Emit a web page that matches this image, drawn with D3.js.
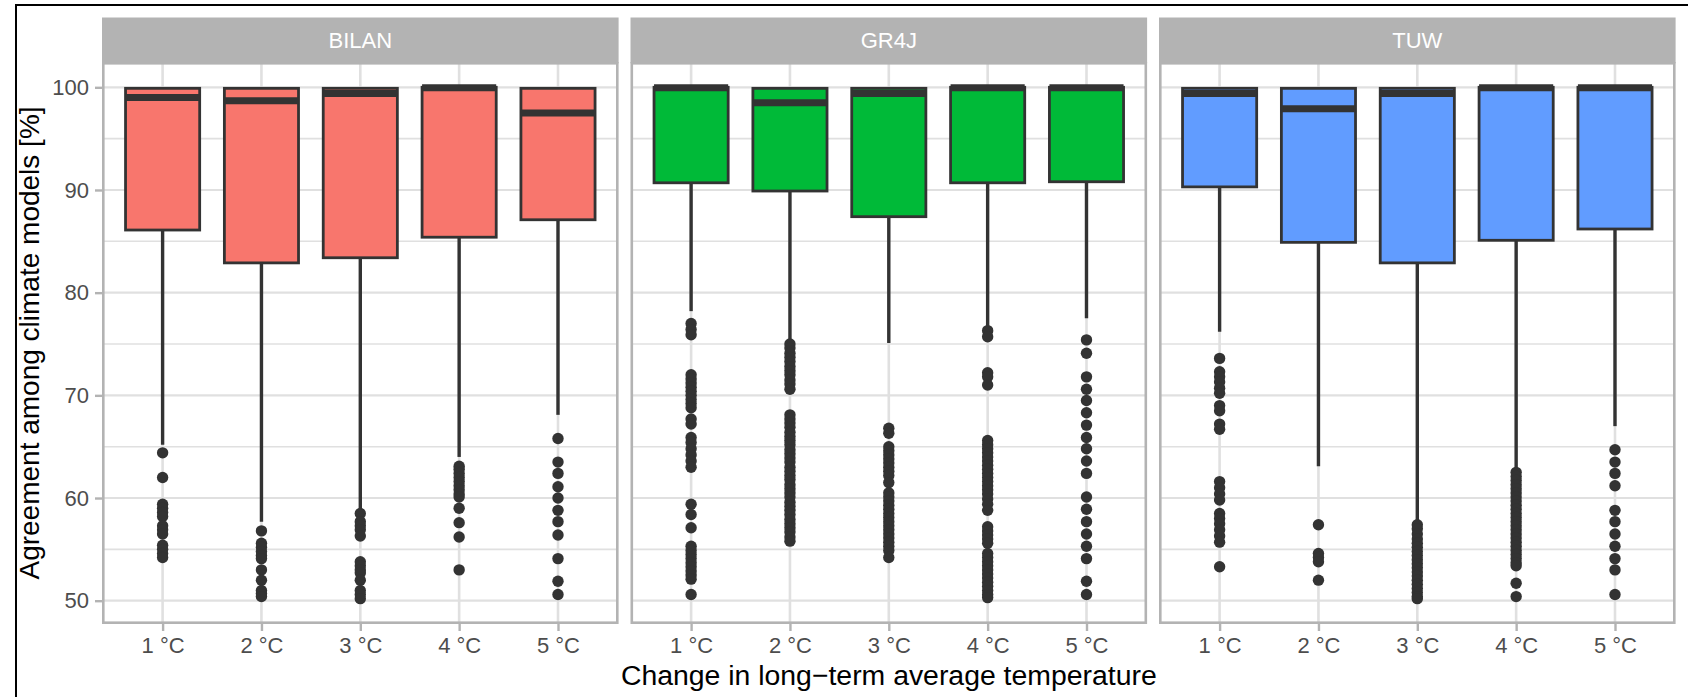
<!DOCTYPE html>
<html>
<head>
<meta charset="utf-8">
<script src="https://cdn.jsdelivr.net/npm/d3@7"></script>
<style>
  body { margin: 0; background: #fff; }
  text { font-family: "Liberation Sans", Arial, Helvetica, sans-serif; }
</style>
</head>
<body>
<svg id="chart" width="1688" height="697"></svg>
<script>
// ---- data ----
const models = ["BILAN", "GR4J", "TUW"]
const categories = ["1 °C", "2 °C", "3 °C", "4 °C", "5 °C"]
const fills = ["#F8766D", "#00BA38", "#619CFF"]
const yTicks = [50, 60, 70, 80, 90, 100]
const yMinorTicks = [55, 65, 75, 85, 95]

const bilanQ1 = [86.1, 82.9, 83.4, 85.4, 87.1]
const bilanMedian = [99.0, 98.7, 99.4, 99.95, 97.5]
const bilanQ3 = [99.9, 99.9, 99.9, 100, 99.9]
const bilanLow = [65.2, 57.7, 58.9, 64.0, 68.1]
const bilanOut = [
  [64.4, 62.0, 59.4, 59.0, 58.6, 58.2, 57.3, 56.9, 56.5, 55.4, 55.0, 54.6, 54.2],
  [56.8, 55.6, 55.2, 54.8, 54.4, 54.1, 53.0, 52.0, 51.0, 50.7, 50.4],
  [58.5, 57.7, 57.3, 56.9, 56.3, 53.8, 53.4, 53.0, 52.7, 52.0, 51.0, 50.6, 50.2],
  [63.1, 62.8, 62.4, 62.0, 61.6, 61.2, 60.8, 60.4, 60.1, 59.0, 57.6, 56.2, 53.0],
  [65.8, 63.5, 62.4, 61.1, 60.0, 58.8, 57.7, 56.4, 54.1, 51.9, 50.6]
]

const gr4jQ1 = [90.7, 89.9, 87.4, 90.7, 90.8]
const gr4jMedian = [99.95, 98.5, 99.4, 99.95, 99.95]
const gr4jQ3 = [100, 99.9, 99.9, 100, 100]
const gr4jLow = [78.2, 75.3, 75.1, 76.6, 77.5]
const gr4jOut = [
  [77.0, 76.4, 75.9, 72.0, 71.6, 71.2, 70.8, 70.4, 70.0, 69.6, 69.2, 68.8, 67.7, 67.2,
   65.9, 65.4, 64.8, 64.2, 63.6, 63.0, 59.4, 58.4, 57.1, 55.3, 54.9, 54.5, 54.1, 53.7,
   53.3, 52.9, 52.5, 52.1, 50.6],
  [75.0, 74.6, 74.1, 73.7, 73.3, 72.8, 72.4, 72.0, 71.5, 71.1, 70.6, 68.1, 67.7, 67.3,
   66.9, 66.4, 66.0, 65.6, 65.2, 64.7, 64.3, 63.9, 63.5, 63.0, 62.6, 62.2, 61.8, 61.3,
   60.9, 60.5, 60.1, 59.6, 59.2, 58.8, 58.4, 57.9, 57.5, 57.1, 56.7, 56.2, 55.8],
  [66.8, 66.3, 65.0, 64.6, 64.2, 63.8, 63.4, 63.0, 62.6, 62.2, 61.5, 60.5, 60.1, 59.7,
   59.3, 58.9, 58.5, 58.1, 57.7, 57.3, 56.9, 56.5, 56.1, 55.7, 55.3, 54.9, 54.2],
  [76.3, 75.7, 72.2, 71.8, 71.0, 65.6, 65.2, 64.8, 64.4, 64.0, 63.6, 63.2, 62.8, 62.4,
   62.0, 61.6, 61.2, 60.8, 60.4, 59.9, 59.4, 58.8, 57.2, 56.8, 56.4, 56.0, 55.6, 54.6,
   54.2, 53.8, 53.4, 53.0, 52.6, 52.2, 51.8, 51.4, 51.0, 50.6, 50.3],
  [75.4, 74.1, 71.8, 70.6, 69.5, 68.3, 67.1, 65.9, 64.8, 63.6, 62.4, 60.1, 58.9, 57.7,
   56.5, 55.3, 54.1, 51.9, 50.6]
]

const tuwQ1 = [90.3, 84.9, 82.9, 85.1, 86.2]
const tuwMedian = [99.4, 97.9, 99.4, 99.95, 99.95]
const tuwQ3 = [99.9, 99.9, 99.9, 100, 100]
const tuwLow = [76.2, 63.1, 57.7, 62.7, 67.0]
const tuwOut = [
  [73.6, 72.3, 71.8, 71.3, 70.7, 70.2, 69.0, 68.5, 67.2, 66.7, 61.6, 61.0, 60.4, 59.8,
   58.5, 58.0, 57.5, 56.9, 56.3, 55.7, 53.3],
  [57.4, 54.6, 54.2, 53.8, 52.0],
  [57.4, 57.0, 56.5, 56.0, 55.6, 55.2, 54.8, 54.4, 54.0, 53.6, 53.2, 52.8, 52.4, 52.0,
   51.6, 51.2, 50.8, 50.4, 50.2],
  [62.5, 62.1, 61.7, 61.3, 60.9, 60.5, 60.1, 59.7, 59.3, 58.9, 58.5, 58.1, 57.7, 57.3,
   56.9, 56.5, 56.1, 55.7, 55.3, 54.9, 54.5, 54.1, 53.7, 53.4, 51.7, 50.4],
  [64.7, 63.5, 62.4, 61.2, 58.8, 57.7, 56.5, 55.3, 54.1, 53.0, 50.6]
]

const q1s = [bilanQ1, gr4jQ1, tuwQ1]
const medians = [bilanMedian, gr4jMedian, tuwMedian]
const q3s = [bilanQ3, gr4jQ3, tuwQ3]
const lows = [bilanLow, gr4jLow, tuwLow]
const outs = [bilanOut, gr4jOut, tuwOut]

// ---- layout ----
const panelW = 514
const panelLefts = [103.3, 631.8, 1160.3]
const stripTop = 17.5, panelTop = 63.3, panelBottom = 622.7
const gridCol = "#e0e0e0", borderCol = "#b3b3b3", ink = "#333333"

var svg = d3.select("#chart")

// frame line at top and left
svg.append("path")
  .attr("d", "M16,697V5H1688")
  .attr("fill", "none").attr("stroke", "#000").attr("stroke-width", 2)

var y = d3.scaleLinear().domain([50, 100]).range([600.7, 87.3])

models.forEach(function (m, i) {
  var x0 = panelLefts[i]
  var x = d3.scalePoint().domain(categories).range([x0, x0 + panelW]).padding(0.6)
  var bw = x.step() * 0.75
  var g = svg.append("g")

  // grid
  g.selectAll(".minor").data(yMinorTicks).join("line")
    .attr("x1", x0).attr("x2", x0 + panelW)
    .attr("y1", d => y(d)).attr("y2", d => y(d))
    .attr("stroke", gridCol).attr("stroke-width", 1.6)
  g.selectAll(".major").data(yTicks).join("line")
    .attr("x1", x0).attr("x2", x0 + panelW)
    .attr("y1", d => y(d)).attr("y2", d => y(d))
    .attr("stroke", gridCol).attr("stroke-width", 2.2)
  g.selectAll(".vgrid").data(categories).join("line")
    .attr("x1", d => x(d)).attr("x2", d => x(d))
    .attr("y1", panelTop).attr("y2", panelBottom)
    .attr("stroke", gridCol).attr("stroke-width", 2.6)

  var rows = categories.map(function (c, j) {
    return { c: c, q1: q1s[i][j], med: medians[i][j], q3: q3s[i][j], lo: lows[i][j], out: outs[i][j] }
  })

  // whiskers
  g.selectAll(".whisker").data(rows).join("line")
    .attr("x1", d => x(d.c)).attr("x2", d => x(d.c))
    .attr("y1", d => y(d.q1)).attr("y2", d => y(d.lo))
    .attr("stroke", ink).attr("stroke-width", 3.4)

  // boxes
  g.selectAll(".box").data(rows).join("rect")
    .attr("x", d => x(d.c) - bw / 2).attr("width", bw)
    .attr("y", d => y(d.q3)).attr("height", d => y(d.q1) - y(d.q3))
    .attr("fill", fills[i]).attr("stroke", ink).attr("stroke-width", 2.8)

  // medians
  g.selectAll(".median").data(rows).join("line")
    .attr("x1", d => x(d.c) - bw / 2).attr("x2", d => x(d.c) + bw / 2)
    .attr("y1", d => y(d.med)).attr("y2", d => y(d.med))
    .attr("stroke", ink).attr("stroke-width", 7)

  // outliers
  rows.forEach(function (d) {
    g.append("g").selectAll("circle").data(d.out).join("circle")
      .attr("cx", x(d.c)).attr("cy", v => y(v)).attr("r", 5.7)
      .attr("fill", ink)
  })

  // panel border
  g.append("rect")
    .attr("x", x0).attr("y", panelTop)
    .attr("width", panelW).attr("height", panelBottom - panelTop)
    .attr("fill", "none").attr("stroke", borderCol).attr("stroke-width", 2.6)

  // strip
  g.append("rect")
    .attr("x", x0 - 1.3).attr("y", stripTop)
    .attr("width", panelW + 2.6).attr("height", panelTop - stripTop)
    .attr("fill", borderCol)
  g.append("text")
    .attr("x", x0 + panelW / 2).attr("y", (stripTop + panelTop) / 2)
    .attr("dy", "0.36em").attr("text-anchor", "middle")
    .attr("fill", "#fff").attr("font-size", 22)
    .text(m)

  // x axis
  var xa = g.append("g")
    .attr("transform", "translate(0," + (panelBottom + 1.3) + ")")
    .call(d3.axisBottom(x).tickSize(7).tickPadding(6))
  xa.select(".domain").remove()
  xa.selectAll("line").attr("stroke", borderCol).attr("stroke-width", 2.4)
  xa.selectAll("text").attr("fill", "#4d4d4d").attr("font-size", 22)
    .attr("font-family", "Liberation Sans, Arial, sans-serif")

  if (i === 0) {
    var ya = g.append("g")
      .attr("transform", "translate(" + (x0 - 1.3) + ",0)")
      .call(d3.axisLeft(y).tickValues(yTicks).tickSize(7).tickPadding(6))
    ya.select(".domain").remove()
    ya.selectAll("line").attr("stroke", borderCol).attr("stroke-width", 2.4)
    ya.selectAll("text").attr("fill", "#4d4d4d").attr("font-size", 22)
      .attr("font-family", "Liberation Sans, Arial, sans-serif")
  }
})

// axis titles
svg.append("text")
  .attr("x", (panelLefts[0] + panelLefts[2] + panelW) / 2).attr("y", 685)
  .attr("text-anchor", "middle").attr("font-size", 28.4).attr("fill", "#000")
  .text("Change in long\u2212term average temperature")

svg.append("text")
  .attr("transform", "translate(39," + (panelTop + panelBottom) / 2 + ") rotate(-90)")
  .attr("text-anchor", "middle").attr("font-size", 28).attr("fill", "#000")
  .text("Agreement among climate models [%]")
</script>
</body>
</html>
